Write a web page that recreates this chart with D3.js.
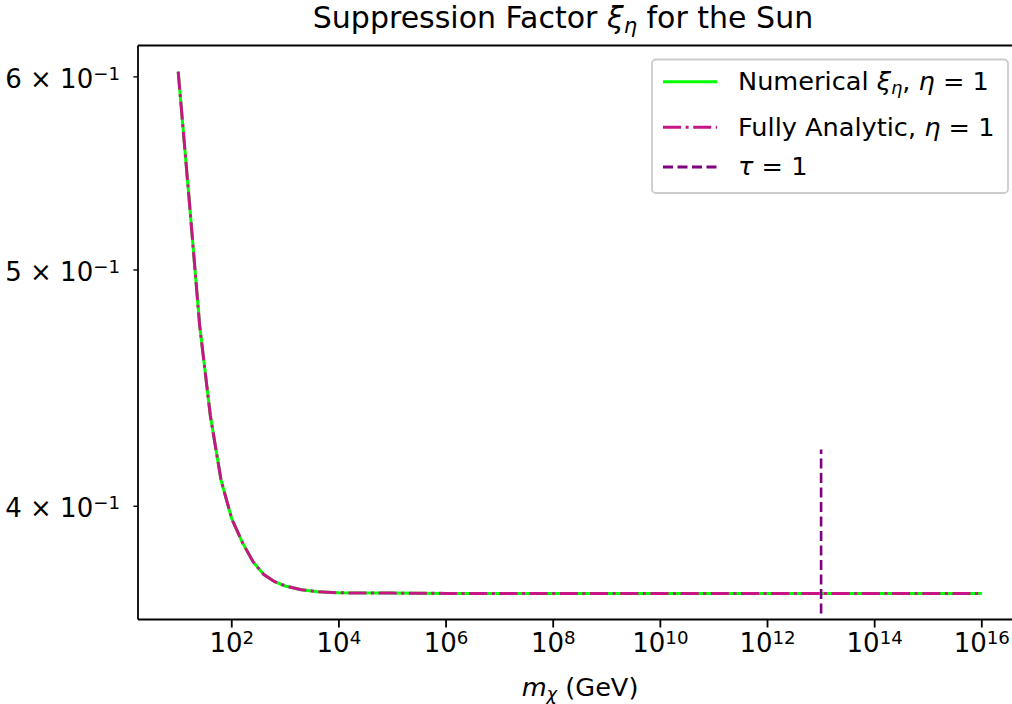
<!DOCTYPE html>
<html lang="en">

<head>
    <meta charset="UTF-8">
    <title>Suppression Factor</title>
    <script src="https://cdn.jsdelivr.net/npm/d3@7"></script>
    <style>
        body {
            margin: 0;
            background: #fff;
        }

        svg {
            display: block;
            font-family: "DejaVu Sans", sans-serif;
        }
    </style>
</head>

<body>
    <svg width="1012" height="704"></svg>
    <script>
        // mass exponents (log10 of m in GeV)
        var massExp = [1.0, 1.2, 1.4, 1.6, 1.8, 2.0, 2.2, 2.4, 2.6, 2.8, 3.0, 3.3, 3.6, 4.0, 5, 6, 7, 8, 9, 10, 11, 12, 13, 14, 15, 16];
        // numerical xi_eta
        var numerical = [0.603, 0.536, 0.4747, 0.4358, 0.4100, 0.3953, 0.3865, 0.3795, 0.3750, 0.3725, 0.3710, 0.3697, 0.3690, 0.3686,
            0.3685, 0.3684, 0.3684, 0.3684, 0.3684, 0.3684, 0.3684, 0.3684, 0.3684, 0.3684, 0.3684, 0.3684];
        // fully analytic
        var analytic = [0.603, 0.536, 0.4747, 0.4358, 0.4100, 0.3953, 0.3865, 0.3795, 0.3750, 0.3725, 0.3710, 0.3697, 0.3690, 0.3686,
            0.3685, 0.3684, 0.3684, 0.3684, 0.3684, 0.3684, 0.3684, 0.3684, 0.3684, 0.3684, 0.3684, 0.3684];
        // tau = 1 line
        var tauMass = 1e13;
        var tauRange = [0.3615, 0.422];
        // ticks
        var xTickExp = [2, 4, 6, 8, 10, 12, 14, 16];
        var yTicks = [0.4, 0.5, 0.6];
        var yTickMant = ["4", "5", "6"];

        var svg = d3.select('svg');
        // plot box (right edge runs past the picture)
        var plotLeft = 138, plotRight = 1022, plotTop = 45.5, plotBottom = 619.5;

        // matplotlib style 5% margins in log space
        var allY = numerical.concat(analytic);
        var lx = d3.extent(massExp);
        var ly = d3.extent(allY, function (d) { return Math.log10(d); });
        var mx = (lx[1] - lx[0]) * 0.05, my = (ly[1] - ly[0]) * 0.05;

        var x = d3.scaleLog()
            .domain([Math.pow(10, lx[0] - mx), Math.pow(10, lx[1] + mx)])
            .range([plotLeft, plotRight]);
        var y = d3.scaleLog()
            .domain([Math.pow(10, ly[0] - my), Math.pow(10, ly[1] + my)])
            .range([plotBottom, plotTop]);

        var line = d3.line()
            .x(function (d) { return x(Math.pow(10, d[0])); })
            .y(function (d) { return y(d[1]); });

        // curves
        svg.append('path')
            .datum(d3.zip(massExp, numerical))
            .attr('d', line)
            .attr('fill', 'none')
            .attr('stroke', '#00ff00')
            .attr('stroke-width', 3);

        svg.append('path')
            .datum(d3.zip(massExp, analytic))
            .attr('d', line)
            .attr('fill', 'none')
            .attr('stroke', '#c71585')
            .attr('stroke-width', 3)
            .attr('stroke-dasharray', '18,4.6,3,4.6');

        // tau = 1
        svg.append('line')
            .attr('x1', x(tauMass)).attr('x2', x(tauMass))
            .attr('y1', y(tauRange[0])).attr('y2', y(tauRange[1]))
            .attr('stroke', '#800080')
            .attr('stroke-width', 2.6)
            .attr('stroke-dasharray', '10,4.5');

        // frame
        var frame = svg.append('g').attr('stroke', '#000').attr('stroke-width', 1.8);
        frame.append('line').attr('x1', plotLeft).attr('x2', plotRight).attr('y1', plotTop).attr('y2', plotTop);
        frame.append('line').attr('x1', plotLeft).attr('x2', plotRight).attr('y1', plotBottom).attr('y2', plotBottom);
        frame.append('line').attr('x1', plotLeft).attr('x2', plotLeft).attr('y1', plotTop).attr('y2', plotBottom);

        // x ticks
        var xt = svg.append('g').selectAll('g')
            .data(xTickExp).enter().append('g')
            .attr('transform', function (d) { return 'translate(' + x(Math.pow(10, d)) + ',0)'; });
        xt.append('line')
            .attr('y1', plotBottom).attr('y2', plotBottom + 8)
            .attr('stroke', '#000').attr('stroke-width', 1.8);
        var xtt = xt.append('text')
            .attr('y', 652)
            .attr('text-anchor', 'middle')
            .attr('font-size', 26)
            .attr('fill', '#000');
        xtt.append('tspan').text('10');
        xtt.append('tspan').attr('dy', '-0.45em').attr('font-size', '0.7em').text(function (d) { return d; });

        // y ticks (minor, labelled)
        var yt = svg.append('g').selectAll('g')
            .data(yTicks).enter().append('g')
            .attr('transform', function (d) { return 'translate(0,' + y(d) + ')'; });
        yt.append('line')
            .attr('x1', plotLeft).attr('x2', plotLeft - 4.6)
            .attr('stroke', '#000').attr('stroke-width', 1.4);
        var ytt = yt.append('text')
            .attr('x', 120)
            .attr('y', 11)
            .attr('text-anchor', 'end')
            .attr('font-size', 26)
            .attr('fill', '#000');
        ytt.append('tspan').text(function (d, i) { return yTickMant[i] + ' \u00d7 10'; });
        ytt.append('tspan').attr('dy', '-0.45em').attr('font-size', '0.7em').text('\u22121');

        // title
        var title = svg.append('text')
            .attr('x', 563).attr('y', 28)
            .attr('text-anchor', 'middle')
            .attr('font-size', 30);
        title.append('tspan').text('Suppression Factor ');
        title.append('tspan').attr('font-style', 'italic').text('\u03be');
        title.append('tspan').attr('font-style', 'italic').attr('font-size', '0.7em').attr('dy', '0.25em').text('\u03b7');
        title.append('tspan').attr('dy', '-0.18em').text(' for the Sun');

        // x label
        var xl = svg.append('text')
            .attr('x', 580).attr('y', 696)
            .attr('text-anchor', 'middle')
            .attr('font-size', 25.6);
        xl.append('tspan').attr('font-style', 'italic').text('m');
        xl.append('tspan').attr('font-style', 'italic').attr('font-size', '0.7em').attr('dy', '0.25em').text('\u03c7');
        xl.append('tspan').attr('dy', '-0.18em').text(' (GeV)');

        // legend
        var legend = svg.append('g');
        legend.append('rect')
            .attr('x', 652).attr('y', 59.5)
            .attr('width', 356).attr('height', 133.5)
            .attr('rx', 4).attr('ry', 4)
            .attr('fill', '#fff').attr('fill-opacity', 0.8)
            .attr('stroke', '#cccccc').attr('stroke-width', 1.8);

        var legendItems = [
            { color: '#00ff00', dash: null, y: 81.7 },
            { color: '#c71585', dash: '18,4.6,3,4.6', y: 127.3 },
            { color: '#800080', dash: '10,4.5', y: 167 }
        ];
        legend.selectAll('line.h')
            .data(legendItems).enter().append('line')
            .attr('class', 'h')
            .attr('x1', 663).attr('x2', 717)
            .attr('y1', function (d) { return d.y; })
            .attr('y2', function (d) { return d.y; })
            .attr('stroke', function (d) { return d.color; })
            .attr('stroke-width', 3)
            .attr('stroke-dasharray', function (d) { return d.dash; });

        var t1 = legend.append('text').attr('x', 738).attr('y', 90).attr('font-size', 25.6);
        t1.append('tspan').text('Numerical ');
        t1.append('tspan').attr('font-style', 'italic').text('\u03be');
        t1.append('tspan').attr('font-style', 'italic').attr('font-size', '0.7em').attr('dy', '0.25em').text('\u03b7');
        t1.append('tspan').attr('dy', '-0.18em').text(', ');
        t1.append('tspan').attr('font-style', 'italic').text('\u03b7');
        t1.append('tspan').text(' = 1');

        var t2 = legend.append('text').attr('x', 738).attr('y', 135.5).attr('font-size', 25.6);
        t2.append('tspan').text('Fully Analytic, ');
        t2.append('tspan').attr('font-style', 'italic').text('\u03b7');
        t2.append('tspan').text(' = 1');

        var t3 = legend.append('text').attr('x', 738).attr('y', 175).attr('font-size', 25.6);
        t3.append('tspan').attr('font-style', 'italic').text('\u03c4');
        t3.append('tspan').text(' = 1');
    </script>
</body>

</html>
